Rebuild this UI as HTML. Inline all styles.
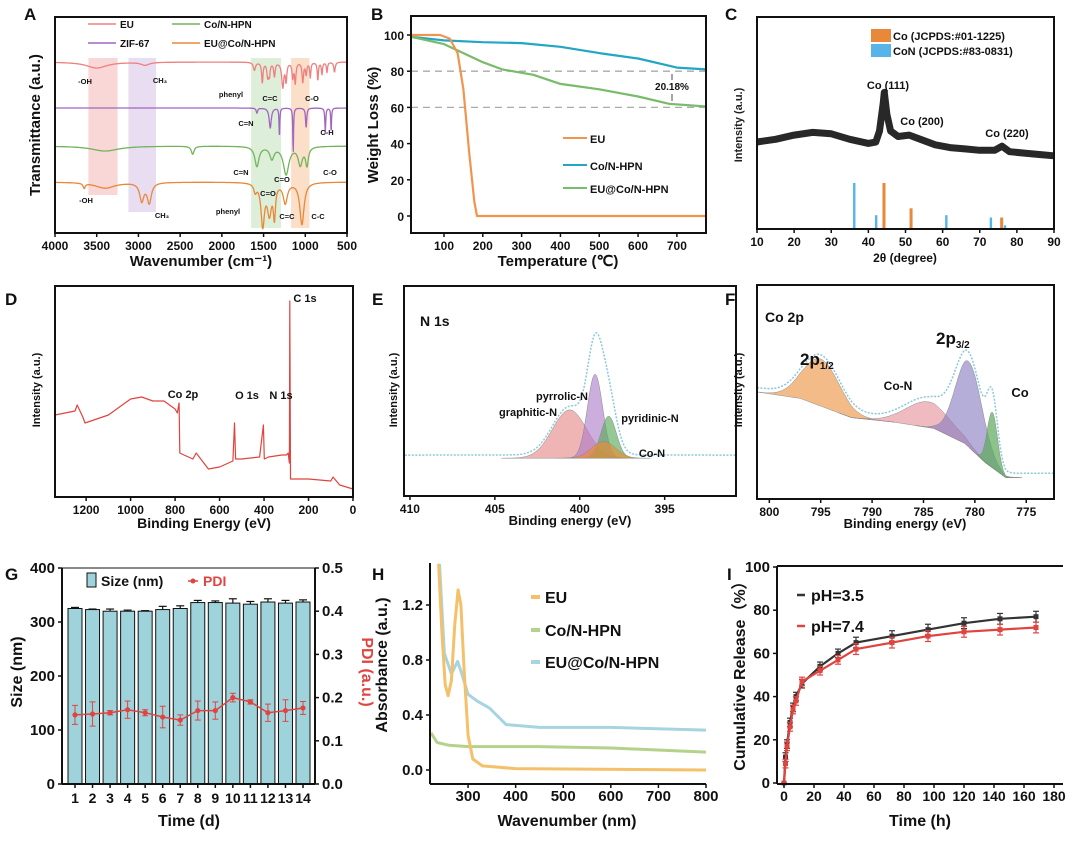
<!DOCTYPE html>
<html><head><meta charset="utf-8"><style>
body{margin:0;background:#fff;}
svg{display:block;font-family:"Liberation Sans",sans-serif;}
text{font-weight:bold;}
</style></head><body>
<svg id="fig" width="1080" height="847" viewBox="0 0 1080 847" xmlns="http://www.w3.org/2000/svg"></svg>
<script>
// ---------- DATA ----------
const ftirEU=[[3500,6,150],[2920,3,60],[1610,8,15],[1515,20,10],[1450,14,12],[1430,12,10],[1370,14,10],[1270,25,15],[1230,18,10],[1150,15,10],[1120,20,10],[1030,20,10],[990,12,10],[940,15,8],[850,18,8],[800,12,8],[740,10,8],[650,10,10]];
const ftirZIF=[[1580,5,10],[1420,20,15],[1310,30,5],[1145,45,5],[990,20,8],[760,25,6],[690,25,5]];
const ftirCoN=[[3400,5,200],[2350,8,20],[1580,20,30],[1400,12,30],[1230,28,40],[1060,18,30],[980,18,20]];
const ftirEUCo=[[3650,5,15],[3400,6,150],[2960,18,30],[2870,20,30],[1600,8,20],[1510,42,25],[1430,30,30],[1370,32,15],[1240,20,30],[1040,42,30]];
const tgaEU=[[15,100],[90,100],[115,98],[135,90],[150,70],[165,35],[178,8],[185,0],[775,0]];
const tgaCoN=[[15,99],[100,97],[200,96],[300,95.5],[400,93.5],[500,90],[600,87],[700,82],[775,81]];
const tgaEUCo=[[15,99],[100,95],[150,90],[200,85],[250,81],[330,78],[400,73],[500,70],[600,66],[680,62],[775,60.5]];
const xrdX=[10,15,20,25,30,35,40,42,43,44,44.3,45,46,48,51,54,58,62,66,70,74,76,78,82,86,90];
const xrdY=[42,44,47,49,48,44,41,42,50,70,78,62,50,46,47,44,40,38,37,36,36,39,35,34,33,32];
const coSticks=[[44.2,100],[51.5,45],[75.9,25]];
const conSticks=[[36.2,100],[42.1,30],[61.0,30],[73.0,25],[76.8,8]];
const xpsX=[1340,1250,1240,1215,1205,1100,1000,950,900,850,800,790,782,779,760,720,705,650,600,540,533,528,500,420,403,399,380,320,300,292,286,284,281,200,100,90,60,0];
const xpsY=[41,43,46,40,37,41,49,50,48,48,44,42,47,22,21,19,22,14,15,18,37,19,19,20,36,19,20,21,21,22,17,98,9,9,8,10,6,4];
const n1sPeaks=[[400.6,23,1.0],[399.1,40,0.45],[398.3,20,0.45],[398.6,8,0.7]];
const n1sBase=18;
const co2pPeaks=[[795,22,1.8],[784.5,12,2.2],[780.6,40,1.3],[778.3,26,0.5]];
const co2pBaseX=[801.2,797,792,788,784,781,779,777,772.3];
const co2pBaseY=[50,47,38,36,33,26,17,10,10];
const days=[1,2,3,4,5,6,7,8,9,10,11,12,13,14];
const sizes=[325,323,320,320,320,323,325,336,336,335,333,337,335,337];
const sizeErr=[2,1,4,2,1,6,5,4,3,8,5,6,5,4];
const pdi=[0.16,0.162,0.165,0.172,0.165,0.155,0.148,0.17,0.17,0.2,0.19,0.165,0.17,0.176];
const pdiErr=[0.022,0.028,0.005,0.02,0.007,0.025,0.012,0.022,0.02,0.01,0.005,0.02,0.025,0.015];
const uvEU=[[238,1.5],[245,1.0],[252,0.62],[258,0.54],[265,0.65],[272,1.05],[279,1.31],[285,1.2],[292,0.7],[300,0.25],[310,0.08],[330,0.03],[400,0.01],[800,0.0]];
const uvCoN=[[222,0.27],[235,0.2],[260,0.18],[300,0.17],[450,0.17],[600,0.16],[800,0.13]];
const uvEUCo=[[240,1.5],[250,0.85],[265,0.7],[278,0.79],[285,0.72],[300,0.55],[320,0.5],[345,0.45],[380,0.33],[450,0.31],[600,0.31],[800,0.29]];
const relT=[0,1,2,4,6,8,12,24,36,48,72,96,120,144,168];
const rel35=[0,12,18,28,35,40,46,54,60,65,68,71,74,76,77];
const rel74=[0,9,17,26,34,38,47,52,57,62,65,68,70,71,72];
const relErr=[0,2,2,2,2,2,2,2,2,2.5,2.5,2.5,2.5,2.5,2.5];

// ---------- HELPERS ----------
const svg=document.getElementById('fig');
const NS='http://www.w3.org/2000/svg';
function el(tag,attrs,parent){const e=document.createElementNS(NS,tag);for(const k in attrs)e.setAttribute(k,attrs[k]);(parent||svg).appendChild(e);return e;}
function txt(x,y,s,size,opts){opts=opts||{};const t=el('text',Object.assign({x:x,y:y,'font-size':size,fill:opts.fill||'#111','text-anchor':opts.anchor||'middle'},opts.rot?{transform:`rotate(${opts.rot} ${x} ${y})`}:{}));t.textContent=s;return t;}
function lin(d0,d1,p0,p1){return v=>p0+(v-d0)/(d1-d0)*(p1-p0);}
function poly(pts,stroke,w,parent,extra){return el('polyline',Object.assign({points:pts.map(p=>p[0].toFixed(1)+','+p[1].toFixed(1)).join(' '),fill:'none',stroke:stroke,'stroke-width':w,'stroke-linejoin':'round'},extra||{}),parent);}
function box(x0,y0,x1,y1,name){const r=el('rect',{x:x0,y:y0,width:x1-x0,height:y1-y0,fill:'none',stroke:'#111','stroke-width':2});return r;}
function xticks(vals,sx,y,size){vals.forEach(v=>{el('line',{x1:sx(v),x2:sx(v),y1:y,y2:y+4,stroke:'#111','stroke-width':1.5});txt(sx(v),y+17,String(v),size||13);});}
function yticks(vals,sy,x,labels,size,right){vals.forEach((v,i)=>{el('line',{x1:x,x2:right?x+4:x-4,y1:sy(v),y2:sy(v),stroke:'#111','stroke-width':1.5});txt(right?x+7:x-7,sy(v)+5,labels?labels[i]:String(v),size||13,{anchor:right?'start':'end'});});}
function panelLabel(x,y,s){const t=txt(x,y,s,17,{anchor:'start'});}
function gauss(x,p){return p[1]*Math.exp(-((x-p[0])**2)/(2*p[2]*p[2]));}
function interp(xs,ys,x){for(let i=0;i<xs.length-1;i++){const a=xs[i],b=xs[i+1];if((x-a)*(x-b)<=0){return ys[i]+(ys[i+1]-ys[i])*(x-a)/(b-a);}}return ys[ys.length-1];}

// ---------- PANEL A ----------
(function(){
const g=el('g',{});
const sx=lin(4000,500,55,347);
const bands=[[3600,3250,58,195,'rgba(240,140,140,0.35)'],[3120,2790,58,212,'rgba(200,170,220,0.4)'],[1650,1290,58,228,'rgba(170,215,160,0.4)'],[1170,950,58,228,'rgba(245,175,120,0.4)']];
bands.forEach(b=>{const r=el('rect',{x:sx(b[0]),y:b[2],width:sx(b[1])-sx(b[0]),height:b[3]-b[2],fill:b[4]},g);});
const series=[[ftirEU,62,'#ee8080','ftir-eu'],[ftirZIF,108,'#a066c0','ftir-zif67'],[ftirCoN,146,'#72b45c','ftir-con-hpn'],[ftirEUCo,182,'#e8883a','ftir-eu-con-hpn']];
series.forEach(s=>{const pts=[];for(let w=4000;w>=500;w-=4){let y=s[1];s[0].forEach(d=>{y+=d[1]/(1+((w-d[0])/d[2])**2);});pts.push([sx(w),y]);}
const p=poly(pts,s[2],1.3,g);});
box(55,17,347,233,'panel-a-frame');
xticks([4000,3500,3000,2500,2000,1500,1000,500],sx,233,12);
txt(201,266,'Wavenumber (cm⁻¹)',15);
txt(40,125,'Transmittance (a.u.)',15,{rot:-90});
panelLabel(24,20,'A');
[[88,28,'#ee8080','EU'],[172,28,'#72b45c','Co/N-HPN'],[88,47,'#a066c0','ZIF-67'],[172,47,'#e8883a','EU@Co/N-HPN']].forEach(l=>{const e=el('line',{x1:l[0],x2:l[0]+28,y1:l[1]-4,y2:l[1]-4,stroke:l[2],'stroke-width':1.5});const t=txt(l[0]+32,l[1],l[3],10,{anchor:'start'});});
const ann=[[85,84,'-OH'],[160,83,'CH₃'],[231,97,'phenyl'],[270,101,'C=C'],[312,101,'C-O'],[246,126,'C=N'],[327,135,'C-H'],[241,175,'C=N'],[282,182,'C=O'],[330,175,'C-O'],[86,203,'-OH'],[162,218,'CH₃'],[268,196,'C=O'],[228,214,'phenyl'],[287,219,'C=C'],[318,219,'C-C']];
ann.forEach(a=>{txt(a[0],a[1],a[2],7.5);});
})();

// ---------- PANEL B ----------
(function(){
const g=el('g',{});
const sx=lin(15,775,411,706), sy=lin(0,100,216,35);
[80,60].forEach(v=>{el('line',{x1:411,x2:706,y1:sy(v),y2:sy(v),stroke:'#aaa','stroke-width':1.3,'stroke-dasharray':'7,5'},g);});
[[tgaCoN,'#22a6c4','tga-con-hpn'],[tgaEUCo,'#78bb6a','tga-eu-con-hpn'],[tgaEU,'#f0944e','tga-eu']].forEach(s=>{const p=poly(s[0].map(d=>[sx(d[0]),sy(d[1])]),s[1],2.2,g);});
box(411,16,706,233,'panel-b-frame');
xticks([100,200,300,400,500,600,700],sx,233,12);
yticks([0,20,40,60,80,100],sy,411,null,12);
txt(558,266,'Temperature (℃)',15);
txt(378,125,'Weight Loss (%)',15,{rot:-90});
panelLabel(371,20,'B');
txt(672,90,'20.18%',10);
el('line',{x1:672,x2:672,y1:74,y2:80,stroke:'#888','stroke-width':1.5});el('line',{x1:672,x2:672,y1:94,y2:101,stroke:'#888','stroke-width':1.5});
[[138,'#f0944e','EU'],[165,'#22a6c4','Co/N-HPN'],[188,'#78bb6a','EU@Co/N-HPN']].forEach(l=>{const y=l[0];el('line',{x1:563,x2:587,y1:y,y2:y,stroke:l[1],'stroke-width':2});const t=txt(590,y+5,l[2],11,{anchor:'start'});});
})();

// ---------- PANEL C ----------
(function(){
const g=el('g',{});
const sx=lin(10,90,757,1054), sy=lin(0,100,200,62);
const pts=[];for(let i=0;i<xrdX.length;i++)pts.push([sx(xrdX[i]),sy(xrdY[i])]);
const p=poly(pts,'#111',7,g,{'stroke-opacity':0.9});
const sh=lin(0,100,229,183);
coSticks.forEach(s=>{const r=el('rect',{x:sx(s[0])-1.5,y:sh(s[1]),width:3,height:229-sh(s[1]),fill:'#e8883a'},g);});
conSticks.forEach(s=>{const r=el('rect',{x:sx(s[0])-1.2,y:sh(s[1]),width:2.4,height:229-sh(s[1]),fill:'#56b4e9'},g);});
box(757,17,1054,229,'panel-c-frame');
xticks([10,20,30,40,50,60,70,80,90],sx,229,12);
txt(905,262,'2θ (degree)',12);
txt(742,125,'Intensity (a.u.)',11,{rot:-90,fill:'#222'});
panelLabel(725,20,'C');
el('rect',{x:871,y:29,width:20,height:13,fill:'#e8883a'});txt(893,40,'Co (JCPDS:#01-1225)',11,{anchor:'start'});
el('rect',{x:871,y:44,width:20,height:13,fill:'#56b4e9'});txt(893,55,'CoN (JCPDS:#83-0831)',11,{anchor:'start'});
txt(888,89,'Co (111)',11);txt(922,125,'Co (200)',11);txt(1007,137,'Co (220)',11);
})();

// ---------- PANEL D ----------
(function(){
const g=el('g',{});
const sx=lin(1340,0,55,353), sy=lin(0,100,497,297);
const p=poly(xpsX.map((x,i)=>[sx(x),sy(xpsY[i])]),'#e0443f',1.2,g);
box(55,286,353,497,'panel-d-frame');
xticks([1200,1000,800,600,400,200,0],sx,497,12);
txt(204,528,'Binding Energy (eV)',14);
txt(40,390,'Intensity (a.u.)',11,{rot:-90});
panelLabel(5,305,'D');
txt(305,302,'C 1s',11);txt(183,398,'Co 2p',11);txt(247,399,'O 1s',11);txt(281,399,'N 1s',11);
})();

// ---------- PANEL E ----------
(function(){
const g=el('g',{});
const sx=lin(410.35,390.8,404,736), sy=lin(0,100,496,286);
const cols=['rgba(225,120,120,0.55)','rgba(170,120,200,0.6)','rgba(90,170,90,0.65)','rgba(235,140,50,0.65)'];
const names=['graphitic-n-peak','pyrrolic-n-peak','pyridinic-n-peak','co-n-peak'];
n1sPeaks.forEach((pk,i)=>{const pts=[];for(let x=pk[0]+4*pk[2];x>=pk[0]-4*pk[2];x-=0.05)pts.push([sx(x),sy(n1sBase+gauss(x,pk))]);const d='M'+pts.map(p=>p[0].toFixed(1)+','+p[1].toFixed(1)).join('L')+'Z';const pa=el('path',{d:d,fill:cols[i],stroke:'#888','stroke-width':0.5},g);});
const env=[];for(let x=410.3;x>=390.8;x-=0.05){let y=n1sBase;n1sPeaks.forEach(pk=>y+=gauss(x,pk));env.push([sx(x),sy(y+1.5)]);}
const p=poly(env,'#8cc8dc',1.5,g,{'stroke-dasharray':'2,1.5'});
box(404,286,736,496,'panel-e-frame');
xticks([410,405,400,395],sx,496,12);
txt(570,525,'Binding energy (eV)',13);
txt(397,390,'Intensity (a.u.)',11,{rot:-90});
panelLabel(372,305,'E');
txt(420,326,'N 1s',14,{anchor:'start'});
txt(562,400,'pyrrolic-N',11);txt(528,416,'graphitic-N',11);txt(650,422,'pyridinic-N',11);txt(652,457,'Co-N',11);
})();

// ---------- PANEL F ----------
(function(){
const g=el('g',{});
const sx=lin(801.2,772.3,757,1054), sy=lin(0,100,499,285);
const base=x=>interp(co2pBaseX,co2pBaseY,x);
const cols=['rgba(235,150,70,0.65)','rgba(225,130,140,0.55)','rgba(130,120,190,0.6)','rgba(90,170,90,0.7)'];
const names=['co-2p12-peak','co-n-peak','co-2p32-peak','co-metal-peak'];
co2pPeaks.forEach((pk,i)=>{const top=[],bot=[];for(let x=Math.min(801.2,pk[0]+4*pk[2]);x>=Math.max(772.3,pk[0]-4*pk[2]);x-=0.05){top.push([sx(x),sy(base(x)+gauss(x,pk))]);bot.unshift([sx(x),sy(base(x))]);}const all=top.concat(bot);const d='M'+all.map(p=>p[0].toFixed(1)+','+p[1].toFixed(1)).join('L')+'Z';const pa=el('path',{d:d,fill:cols[i],stroke:'#888','stroke-width':0.5},g);});
const env=[];for(let x=801.2;x>=772.3;x-=0.05){let y=base(x);co2pPeaks.forEach(pk=>y+=gauss(x,pk));env.push([sx(x),sy(y+2)]);}
const p=poly(env,'#8cc8dc',1.5,g,{'stroke-dasharray':'2,1.5'});
box(757,285,1054,499,'panel-f-frame');
xticks([800,795,790,785,780,775],sx,499,12);
txt(905,528,'Binding energy (eV)',13);
txt(742,390,'Intensity (a.u.)',11,{rot:-90});
panelLabel(725,305,'F');
txt(765,322,'Co 2p',14,{anchor:'start'});
const a=txt(800,365,'2p',17,{anchor:'start'});const s1=el('tspan',{'font-size':10,dy:4},a);s1.textContent='1/2';
const b=txt(936,344,'2p',17,{anchor:'start'});const s2=el('tspan',{'font-size':10,dy:4},b);s2.textContent='3/2';
txt(898,390,'Co-N',12);txt(1020,397,'Co',13);
})();

// ---------- PANEL G ----------
(function(){
const g=el('g',{});
const B=784;
const sx=lin(1,14,75,303), sy=lin(0,400,B,568), sp=lin(0,0.5,B,568);
days.forEach((d,i)=>{const r=el('rect',{x:sx(d)-7,y:sy(sizes[i]),width:14,height:B-sy(sizes[i]),fill:'#9fd3dc',stroke:'#111','stroke-width':1},g);
el('line',{x1:sx(d),x2:sx(d),y1:sy(sizes[i]+sizeErr[i]),y2:sy(sizes[i]),stroke:'#111','stroke-width':1.2},g);el('line',{x1:sx(d)-4,x2:sx(d)+4,y1:sy(sizes[i]+sizeErr[i]),y2:sy(sizes[i]+sizeErr[i]),stroke:'#111','stroke-width':1.2},g);});
const pl=poly(days.map((d,i)=>[sx(d),sp(pdi[i])]),'#e0443f',1.5,g);
days.forEach((d,i)=>{el('line',{x1:sx(d),x2:sx(d),y1:sp(pdi[i]+pdiErr[i]),y2:sp(pdi[i]-pdiErr[i]),stroke:'#e0443f','stroke-width':1},g);[pdi[i]+pdiErr[i],pdi[i]-pdiErr[i]].forEach(v=>el('line',{x1:sx(d)-3,x2:sx(d)+3,y1:sp(v),y2:sp(v),stroke:'#e0443f','stroke-width':1},g));const c=el('circle',{cx:sx(d),cy:sp(pdi[i]),r:2.6,fill:'#e0443f'},g);});
el('line',{x1:62,x2:62,y1:568,y2:B,stroke:'#111','stroke-width':2});el('line',{x1:315,x2:315,y1:568,y2:B,stroke:'#111','stroke-width':2});el('line',{x1:62,x2:315,y1:B,y2:B,stroke:'#111','stroke-width':2});el('line',{x1:62,x2:315,y1:568,y2:568,stroke:'#111','stroke-width':1});
yticks([0,100,200,300,400],sy,62,null,15);
yticks([0,0.1,0.2,0.3,0.4,0.5],sp,315,['0.0','0.1','0.2','0.3','0.4','0.5'],15,true);
days.forEach(d=>{el('line',{x1:sx(d),x2:sx(d),y1:B,y2:B+4,stroke:'#111','stroke-width':1.5});txt(sx(d),B+19,String(d),14);});
txt(189,826,'Time (d)',16);
txt(22,672,'Size (nm)',16,{rot:-90});
txt(362,672,'PDI (a.u.)',16,{rot:90,fill:'#e0443f'});
panelLabel(5,580,'G');
el('rect',{x:87,y:573,width:9,height:14,fill:'#9fd3dc',stroke:'#111'});txt(101,586,'Size (nm)',14,{anchor:'start'});
el('line',{x1:188,x2:198,y1:581,y2:581,stroke:'#e0443f','stroke-width':1.5});el('circle',{cx:193,cy:581,r:2.5,fill:'#e0443f'});txt(203,586,'PDI',14,{anchor:'start',fill:'#e0443f'});
})();

// ---------- PANEL H ----------
(function(){
const g=el('g',{});
const B=784;
const sx=lin(220,800,430,706), sy=lin(0,1.2,770,605);
const clip=el('clipPath',{id:'hclip'});el('rect',{x:430,y:563,width:276,height:B-563},clip);
[[uvCoN,'#b5d28c','uv-con-hpn'],[uvEUCo,'#a6d4e0','uv-eu-con-hpn'],[uvEU,'#f5c06a','uv-eu']].forEach(s=>{const p=poly(s[0].map(d=>[sx(d[0]),sy(d[1])]),s[1],3,g,{'clip-path':'url(#hclip)'});});
el('line',{x1:430,x2:430,y1:563,y2:B,stroke:'#111','stroke-width':2});el('line',{x1:430,x2:706,y1:B,y2:B,stroke:'#111','stroke-width':2});
yticks([0,0.4,0.8,1.2],sy,430,['0.0','0.4','0.8','1.2'],15);
xticks([300,400,500,600,700,800],sx,B,15);
txt(567,826,'Wavenumber (nm)',16);
txt(387,665,'Absorbance (a.u.)',16,{rot:-90});
panelLabel(372,580,'H');
[[603,'#f5c06a','EU'],[636,'#b5d28c','Co/N-HPN'],[668,'#a6d4e0','EU@Co/N-HPN']].forEach(l=>{el('line',{x1:531,x2:540,y1:l[0]-6,y2:l[0]-6,stroke:l[1],'stroke-width':4});const t=txt(545,l[0],l[2],16,{anchor:'start'});});
})();

// ---------- PANEL I ----------
(function(){
const g=el('g',{});
const B=784;
const sx=lin(0,180,784,1054), sy=lin(0,100,783,567);
[[rel35,'#333','release-ph35'],[rel74,'#e0443f','release-ph74']].forEach(s=>{const p=poly(relT.map((t,i)=>[sx(t),sy(s[0][i])]),s[1],2.2,g);
relT.forEach((t,i)=>{const e=relErr[i];el('line',{x1:sx(t),x2:sx(t),y1:sy(s[0][i]+e),y2:sy(s[0][i]-e),stroke:s[1],'stroke-width':1.2},g);[s[0][i]+e,s[0][i]-e].forEach(v=>el('line',{x1:sx(t)-3,x2:sx(t)+3,y1:sy(v),y2:sy(v),stroke:s[1],'stroke-width':1.2},g));el('rect',{x:sx(t)-2.5,y:sy(s[0][i])-2.5,width:5,height:5,fill:s[1]},g);});});
el('line',{x1:777,x2:777,y1:566,y2:B,stroke:'#111','stroke-width':2});el('line',{x1:777,x2:1063,y1:B,y2:B,stroke:'#111','stroke-width':2});el('line',{x1:777,x2:1063,y1:566,y2:566,stroke:'#111','stroke-width':2});
yticks([0,20,40,60,80,100],sy,777,null,15);
xticks([0,20,40,60,80,100,120,140,160,180],sx,B,14);
txt(920,826,'Time (h)',16);
txt(745,672,'Cumulative Release（%）',16,{rot:-90});
panelLabel(727,580,'I');
el('line',{x1:797,x2:805,y1:595,y2:595,stroke:'#333','stroke-width':2.5});txt(811,601,'pH=3.5',16,{anchor:'start'});
el('line',{x1:797,x2:805,y1:626,y2:626,stroke:'#e0443f','stroke-width':2.5});txt(811,632,'pH=7.4',16,{anchor:'start'});
})();
</script>
</body></html>
